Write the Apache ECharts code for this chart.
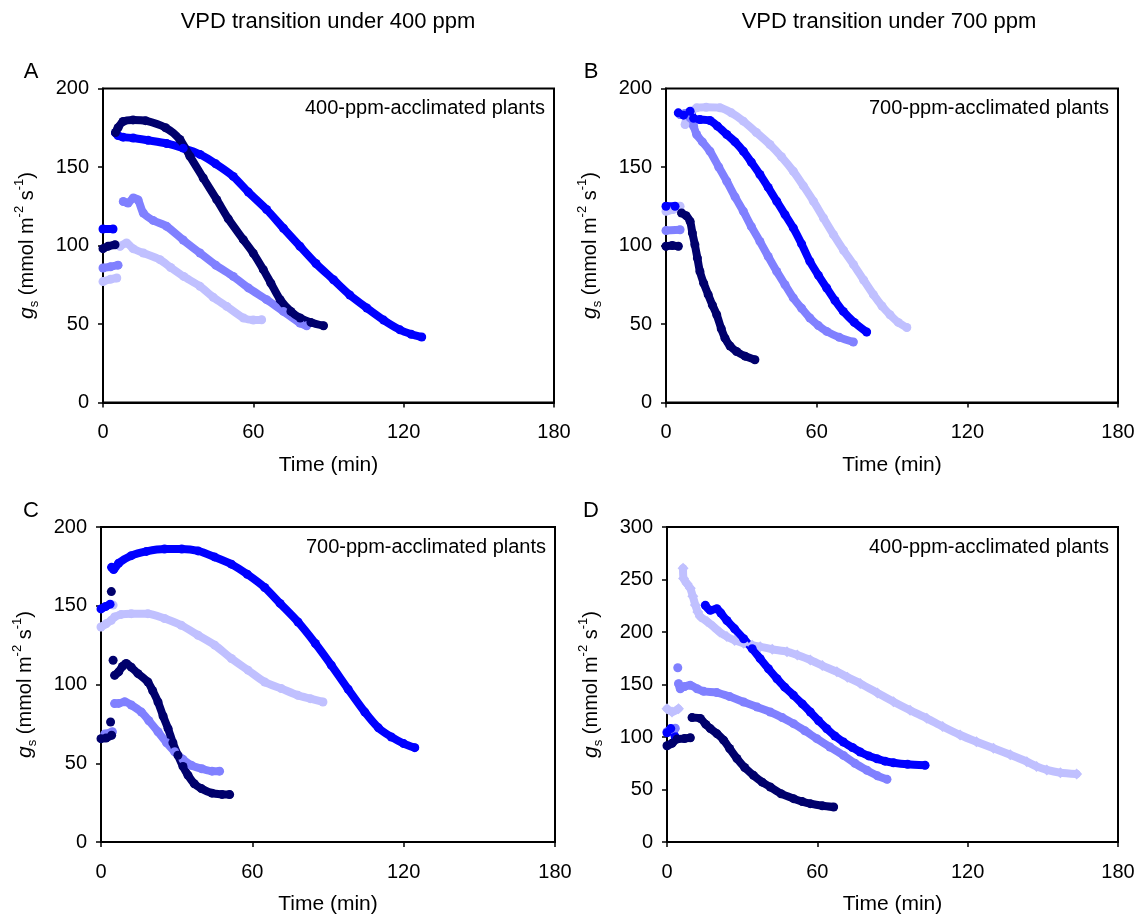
<!DOCTYPE html>
<html>
<head>
<meta charset="utf-8">
<script src="https://cdn.jsdelivr.net/npm/echarts@6/dist/echarts.min.js"></script>
<style>html,body{margin:0;padding:0;background:#fff}#c{width:1142px;height:917px}</style>
</head>
<body>
<div id="c"></div>
<script>
// ---------- data: each series = list of segments, each segment = [[time(min), gs], ...]
const xTicks = [0, 60, 120, 180];
const yMaxTop = 200, yMaxD = 300, yStep = 50;

// Panel A (VPD transition under 400 ppm, 400-ppm-acclimated plants)
const A_navy  = [[[0,98],[2,99.5],[4.8,100.5]],
  [[5,172],[6,175],[8,179],[12,180],[17,179.5],[25,175],[30.7,167.5],[34.7,156.8],[40,143],[45.4,129.2],[50,117],[56,103.7],[60,95],[64,84.6],[67,76],[70.7,65.5],[75,58],[78.7,53.8],[83,51],[88,48.9]]];
const A_blue  = [[[0,110.5],[4,110.5]],
  [[5,171.7],[6,170],[8,169],[12,168.5],[18,167],[25.4,165],[32,162],[38.7,158],[45,152],[52,144],[58,134],[65.3,122.9],[72,111],[78.6,99.5],[85,88.5],[92,78.2],[98.5,68.5],[105.3,60.2],[112,52.5],[118.5,46.3],[123,43.5],[127.2,41.7]]];
const A_med   = [[[0,85.7],[3,86.5],[6,87.5]],
  [[8.1,128],[10,127],[12.1,130.3],[14,129],[16.1,120.7],[20,116],[25.4,112.2],[32,103.5],[38.7,95.2],[45,87.5],[52,80.3],[58,73],[65.3,65.5],[72,58],[78.6,50.6],[81.3,48.9]]];
const A_light = [[[0,77],[3,78.5],[5.5,79.3]],
  [[6.8,99.5],[9.4,101.6],[12,98],[16.1,95.2],[22.7,91],[27,86],[32.2,80.3],[38.7,74],[44,67],[49.4,61.2],[56.1,53.8],[60,52.5],[63.3,52.7]]];

// Panel B (VPD transition under 700 ppm, 700-ppm-acclimated plants)
const B_navy  = [[[0,99.5],[2.5,100],[4.9,99.5]],
  [[6.2,120.7],[8,119],[9.6,115.4],[10.5,108],[11.5,100.5],[12.5,92],[13.5,83.5],[15,76],[16.8,68.7],[18.5,62],[20.2,55.9],[22,47],[23.5,41],[25.5,36],[28.1,32.5],[31.5,29.5],[35.4,27.2]]];
const B_blue  = [[[0,125],[3.6,125]],
  [[4.9,184.5],[7,183],[9.6,185.5],[11,181],[13.5,180.2],[17.5,179.6],[20.5,176],[24.2,170.7],[27.5,166],[30.8,160],[34,153],[37.4,145.2],[40.7,137],[44.1,128.2],[47.4,119.7],[50.7,111.2],[54,101],[57.3,89.9],[60.7,81],[64,72.9],[67.3,65],[70.6,58],[75,51],[79.9,44.9]]];
const B_med   = [[[0,109.5],[5.6,110]],
  [[5.6,183.4],[7.5,184],[9.6,181.3],[11,176],[12.2,170.7],[14.5,166],[17.5,160],[21,150],[24.2,140.9],[27.5,131],[30.8,121.8],[34,112],[37.4,102.6],[40.7,93],[44.1,83.5],[47.4,75],[50.7,66.6],[54,60],[57.3,53.8],[60.7,49],[64,45.3],[69,41.5],[74.6,38.5]]];
const B_light = [[[0,121.8],[3,123],[5.6,125]],
  [[7.6,177],[8.2,181.3],[10,185],[12.2,187.7],[16,188],[21.5,187.7],[26,184.5],[30.8,179.2],[36,172],[41.4,164.3],[46,156.5],[50.7,147.3],[54.7,138],[58.7,128.2],[62.7,117.5],[66.7,106.9],[70.7,97],[74.7,87.8],[78.7,78],[82.6,68.7],[86,61.5],[89.2,55.9],[92.5,51],[95.9,47.8]]];

// Panel C (VPD transition under 400 ppm, 700-ppm-acclimated plants)
const C_navy  = [[[0,65.6],[2,66],[4.2,67.8]], [[3.8,76.2]], [[4.1,159]], [[4.8,115.4]],
  [[5.4,105.8],[7,108],[8.5,111.5],[10,113.3],[12,111],[14.7,106.9],[18.6,101.6],[20.5,96],[22.6,88.9],[24.6,80],[26.6,72],[28.5,63],[30.5,55.1],[32.5,48],[34.5,42.4],[37,37],[39.8,33.9],[44,31],[48,30.2],[51,30.1]]];
const C_blue  = [[[0,148],[1.8,149.5],[3.6,151]],
  [[4.2,174.4],[5,173],[7,177],[12,181.8],[18,184.5],[25.2,186],[32,186],[38.5,184.8],[45,181],[51.7,176.4],[58,170],[64.9,161.6],[71,151.5],[78.1,139.7],[85,126],[91.3,112.3],[98,97],[104.6,82.5],[110,72.5],[115.1,66.7],[120,62.5],[124.4,59.9]]];
const C_med   = [[[1.5,68.5],[4.5,70]],
  [[5.4,87.9],[7,88],[9.4,89],[12,87],[16,82.5],[19,77],[22.6,70],[26,63],[29.2,57.3],[32.5,52.5],[35.8,48.7],[40,46.5],[44,45],[47,45]]];
const C_light = [[[0,136.5],[2,138.5],[4.1,140.8]], [[4.8,150.4]],
  [[5.4,142.9],[8,144.5],[12,145],[18.6,145],[25.2,141.9],[31.8,137.6],[38.5,131.3],[45.1,125],[51.7,116.5],[58.3,109.1],[64.9,101.6],[71.5,97.4],[78.1,93.1],[83,91],[88,88.9]]];

// Panel D (VPD transition under 700 ppm, 400-ppm-acclimated plants)
const D_navy  = [[[0,91.7],[2,94],[4,98],[7,98.5],[9.3,99.3]],
  [[10,118.5],[13.3,117.6],[15.5,112],[17.3,108],[20,103],[22.6,97],[25,89],[27.9,79.5],[31,71],[34.5,63.5],[38,57],[41.2,52.4],[45.5,46],[50.5,41.3],[54,38.5],[57.2,36.5],[62,34.5],[66.5,33.3]]];
const D_blue  = [[[0,104],[1.5,108],[3.3,100]],
  [[15.3,225.4],[17.3,220.6],[19.9,222.2],[21.5,218],[23.9,211],[27,203],[30.6,193.6],[34,184],[37.2,174.6],[40.5,165],[43.9,155.5],[47,147.5],[50.5,139.7],[54,131.5],[57.2,123.8],[60.5,115.5],[63.8,107.9],[67,101],[70.4,95.2],[74,90],[77.1,85.7],[80.5,82],[83.8,79.3],[87,77],[90.4,75.5],[96,74],[103,73]]];
const D_med   = [[[0,105],[1.5,107],[3.3,108.3]], [[4.3,165.9]],
  [[4.6,150.8],[5.3,146],[7,148],[9.3,149.2],[12,146],[14.6,143.5],[19.9,142.3],[25,138.5],[30.6,133.3],[36,128.5],[41.2,123.8],[46,118.5],[50.5,112.7],[55,106],[59.8,98.4],[65,90.5],[70.4,82.5],[75,75],[79.8,68.3],[84,63],[87.8,59.7]]];
const D_light = [[[0,127],[2,123.8],[4.6,127]],
  [[6.4,260.6],[6.6,251],[8,246],[9.3,241.6],[10.3,234],[11.3,225.7],[12.3,219],[13.3,214.6],[16,210],[18.6,205],[21,200],[23.9,195.6],[27,192],[30.6,189.2],[34,187.5],[37.2,186],[42,183.5],[47.9,181.3],[52,178],[57.2,173.3],[62,168],[67.8,162.2],[72,157],[77.1,151],[84,142],[90.4,133.6],[97,125.5],[103.7,117.8],[110,110],[117,101.9],[123.5,95.5],[130.3,89.2],[137,83],[143.6,76.5],[147.5,72],[151.6,68.6],[157,66],[163.5,64.8]]];

const colors = { navy:'#00006c', blue:'#0000ff', med:'#8080ff', light:'#c0c0ff' };
const panelTitles = ['VPD transition under 400 ppm', 'VPD transition under 700 ppm'];
const panelLetters = ['A','B','C','D'];
const panelNotes = ['400-ppm-acclimated plants','700-ppm-acclimated plants','700-ppm-acclimated plants','400-ppm-acclimated plants'];

// ---------- layout
const FONT = 'Liberation Sans, Arial, sans-serif';
const grids = [
  {left:103, top:88.5, width:451, height:314},
  {left:666, top:88.5, width:452, height:314},
  {left:101, top:527, width:454, height:315},
  {left:667, top:527, width:451, height:315}
];
const yMaxes = [yMaxTop, yMaxTop, yMaxTop, yMaxD];
const panels = [
  {navy:A_navy, blue:A_blue, med:A_med, light:A_light},
  {navy:B_navy, blue:B_blue, med:B_med, light:B_light},
  {navy:C_navy, blue:C_blue, med:C_med, light:C_light},
  {navy:D_navy, blue:D_blue, med:D_med, light:D_light}
];

const xAxes = [], yAxes = [], series = [];
grids.forEach((g, i) => {
  xAxes.push({
    gridIndex:i, type:'value', min:xTicks[0], max:xTicks[xTicks.length-1], interval:60,
    name:'Time (min)', nameLocation:'middle', nameGap:52,
    nameTextStyle:{fontFamily:FONT, fontSize:21, color:'#000'},
    axisLine:{show:true, onZero:false, lineStyle:{color:'#000', width:2}},
    axisTick:{show:true, length:5, lineStyle:{color:'#000', width:1.5}},
    axisLabel:{fontFamily:FONT, fontSize:20, color:'#000', margin:20},
    splitLine:{show:false}
  });
  yAxes.push({
    gridIndex:i, type:'value', min:0, max:yMaxes[i], interval:yStep,
    name:'{i|g}{sub|s}{n| (mmol m}{sup|-2}{n| s}{sup|-1}{n|)}',
    nameLocation:'middle', nameRotate:90, nameGap:62,
    nameTextStyle:{fontFamily:FONT, fontSize:20, color:'#000',
      rich:{
        i:{fontFamily:FONT, fontSize:21, fontStyle:'italic', color:'#000', lineHeight:28, verticalAlign:'middle'},
        n:{fontFamily:FONT, fontSize:20, color:'#000', lineHeight:28, verticalAlign:'middle'},
        sub:{fontFamily:FONT, fontSize:13, color:'#000', lineHeight:13, verticalAlign:'bottom'},
        sup:{fontFamily:FONT, fontSize:13, color:'#000', lineHeight:13, verticalAlign:'top'}
      }},
    axisLine:{show:true, onZero:false, lineStyle:{color:'#000', width:2}},
    axisTick:{show:true, length:5, lineStyle:{color:'#000', width:1.5}},
    axisLabel:{fontFamily:FONT, fontSize:20, color:'#000', margin:14},
    splitLine:{show:false}
  });
  const p = panels[i];
  ['light','med','blue','navy'].forEach(k => {
    p[k].forEach(seg => {
      const dia = (i===3 && k==='light');
      series.push({
        type:'line', xAxisIndex:i, yAxisIndex:i, data:seg,
        symbol:dia ? 'diamond' : 'circle',
        symbolSize:dia ? 11 : 9,
        showSymbol:true, showAllSymbol:true, smooth:0.25,
        itemStyle:{color:colors[k], borderWidth:0},
        lineStyle:{color:colors[k], width:8, cap:'round', join:'round'},
        silent:true, animation:false, z:2
      });
    });
  });
});

const graphics = [];
panelTitles.forEach((t, j) => {
  graphics.push({type:'text', x:j===0 ? 328 : 889, y:22,
    style:{text:t, font:'22px ' + FONT, fill:'#000', textAlign:'center', textVerticalAlign:'middle'}});
});
const letterPos = [[31,72],[591,72],[31,511],[591,511]];
panelLetters.forEach((L, i) => {
  graphics.push({type:'text', x:letterPos[i][0], y:letterPos[i][1],
    style:{text:L, font:'22px ' + FONT, fill:'#000', textAlign:'center', textVerticalAlign:'middle'}});
});
panelNotes.forEach((n, i) => {
  const g = grids[i];
  graphics.push({type:'text', x:g.left + g.width - 9, y:g.top + 20,
    style:{text:n, font:'20px ' + FONT, fill:'#000', textAlign:'right', textVerticalAlign:'middle'}});
});

const chart = echarts.init(document.getElementById('c'), null, {renderer:'canvas'});
chart.setOption({
  animation:false,
  backgroundColor:'#fff',
  grid:grids.map(g => Object.assign({show:true, borderColor:'#000', borderWidth:2, backgroundColor:'transparent'}, g)),
  xAxis:xAxes, yAxis:yAxes, series:series, graphic:graphics
});
</script>
</body>
</html>
